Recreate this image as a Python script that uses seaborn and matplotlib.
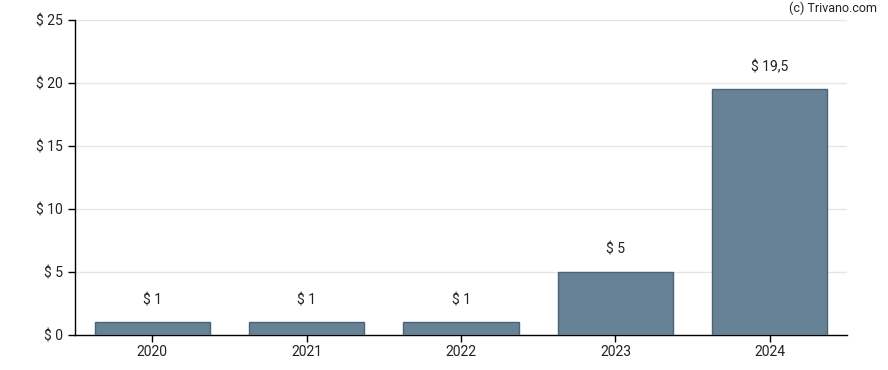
import pandas as pd
import matplotlib.pyplot as plt
import seaborn as sns

# Dividend per year
years = ['2020', '2021', '2022', '2023', '2024']
values = [1, 1, 1, 5, 19.5]
value_labels = ['$ 1', '$ 1', '$ 1', '$ 5', '$ 19,5']
y_ticks = [0, 5, 10, 15, 20, 25]

df = pd.DataFrame({'Year': years, 'Value': values})

sns.set_style('white')
plt.rcParams['font.family'] = ['Roboto', 'DejaVu Sans']

fig = plt.figure(figsize=(8.88, 3.70), dpi=100)
ax = fig.add_axes([75 / 888, 35 / 370, 772 / 888, 315 / 370])

sns.barplot(data=df, x='Year', y='Value', color='#668294', saturation=1,
            width=0.745, edgecolor='#4a6477', linewidth=1, ax=ax, zorder=3)

for i, (v, lab) in enumerate(zip(values, value_labels)):
    ax.annotate(lab, (i, v), xytext=(0, 11), textcoords='offset points',
                ha='center', va='bottom', fontsize=10, color='#222222')

ax.set_xlim(-0.5, 4.5)
ax.set_ylim(0, 25)
ax.set_yticks(y_ticks)
ax.set_yticklabels([f'$ {t}' for t in y_ticks])
ax.set_xlabel('')
ax.set_ylabel('')
ax.grid(axis='y', color='#e6e6e6', linewidth=1, zorder=0)
ax.tick_params(axis='both', length=5, width=1, color='black', labelsize=10,
               labelcolor='#222222', left=True, bottom=True)
ax.tick_params(axis='x', pad=2)
for s in ['top', 'right']:
    ax.spines[s].set_visible(False)
for s in ['left', 'bottom']:
    ax.spines[s].set_color('black')
    ax.spines[s].set_linewidth(1)

fig.text(877 / 888, 1 - 8 / 370, '(c) Trivano.com', ha='right', va='center',
         fontsize=9, color='#222222')

plt.savefig('out.png', dpi=100)
